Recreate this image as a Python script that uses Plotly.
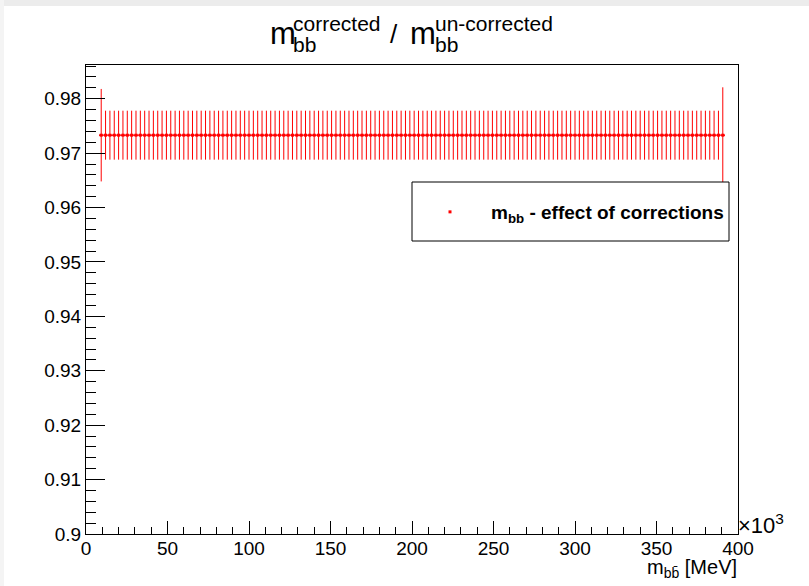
import plotly.graph_objects as go

# ---------------- data (x in units of 10^3 MeV) ----------------
hist_min, hist_max, n_bins = 0.0, 400.0, 150
first_bin, last_bin = 3, 146          # filled bins (0-indexed)

bin_width = (hist_max - hist_min) / n_bins
x_centers = [hist_min + (i + 0.5) * bin_width for i in range(first_bin, last_bin + 1)]
n_pts = len(x_centers)

ratio = [0.9733] * n_pts
ratio_err = [0.0085] + [0.0045] * (n_pts - 2) + [0.0088]
x_err = [bin_width / 2] * n_pts

x_ticks = [0, 50, 100, 150, 200, 250, 300, 350, 400]
y_range = [0.9, 0.9862]

# ---------------- layout helpers ----------------
W, H = 809, 586
L, R, T, B = 86, 71, 65, 52
PW, PH = W - L - R, H - T - B
FONT = "Liberation Sans, Arial, sans-serif"


def px(x):
    return (x - L) / PW


def py(y):
    return 1 - (y - T) / PH


fig = go.Figure()
fig.add_trace(go.Scatter(
    x=x_centers, y=ratio, mode="markers",
    name="<b>m<sub>bb</sub> - effect of corrections</b>",
    marker=dict(color="#ff0000", size=3, symbol="square"),
    error_y=dict(type="data", array=ratio_err, color="#ff0000", thickness=1, width=0),
    error_x=dict(type="data", array=x_err, color="#ff0000", thickness=1.5, width=0),
))

axis_common = dict(showgrid=False, zeroline=False, showline=True, linecolor="black",
                   linewidth=1, mirror=True, ticks="inside", tickcolor="black")

fig.update_xaxes(range=[0, 400], tickmode="array", tickvals=x_ticks,
                 ticktext=[str(v) for v in x_ticks], ticklen=13, ticklabelstandoff=-3,
                 tickfont=dict(family=FONT, size=19, color="black"),
                 minor=dict(dtick=10, ticklen=7, ticks="inside", tickcolor="black"),
                 **axis_common)
fig.update_yaxes(range=y_range, tick0=0.9, dtick=0.01, ticklen=19,
                 tickfont=dict(family=FONT, size=19, color="black"),
                 minor=dict(dtick=0.002, ticklen=10, ticks="inside", tickcolor="black"),
                 **axis_common)

ann = []
# title pieces (stacked sub/superscripts like ROOT TLatex)
ann.append(dict(text="m", x=px(268), y=py(33), xanchor="left", yanchor="middle", font=dict(size=31)))
ann.append(dict(text="corrected", x=px(291), y=py(24), xanchor="left", yanchor="middle", font=dict(size=21)))
ann.append(dict(text="bb", x=px(291), y=py(44), xanchor="left", yanchor="middle", font=dict(size=21)))
ann.append(dict(text="/", x=px(394), y=py(34), xanchor="center", yanchor="middle", font=dict(size=26)))
ann.append(dict(text="m", x=px(408), y=py(33), xanchor="left", yanchor="middle", font=dict(size=31)))
ann.append(dict(text="un-corrected", x=px(433), y=py(24), xanchor="left", yanchor="middle", font=dict(size=21)))
ann.append(dict(text="bb", x=px(433), y=py(44), xanchor="left", yanchor="middle", font=dict(size=21)))
# x axis title
ann.append(dict(text="m<sub>bb\u0304</sub> [MeV]", x=px(739), y=py(568), xanchor="right",
                yanchor="middle", font=dict(size=20)))
# exponent
ann.append(dict(text="\u00d710<sup>3</sup>", x=px(736), y=py(524), xanchor="left",
                yanchor="middle", font=dict(size=22)))
for a in ann:
    a.update(xref="paper", yref="paper", showarrow=False)
    a["font"].update(family=FONT, color="black")

shapes = [
    # outer canvas tint
    dict(type="rect", x0=px(0), x1=px(W), y0=py(0), y1=py(6), fillcolor="#ececec", line_width=0, layer="below"),
    dict(type="rect", x0=px(0), x1=px(4), y0=py(0), y1=py(H), fillcolor="#f4f4f4", line_width=0, layer="below"),
    # legend box
    dict(type="rect", x0=px(412), x1=px(729), y0=py(182), y1=py(241),
         line=dict(color="black", width=1), fillcolor="white", layer="above"),
]
for s in shapes:
    s.update(xref="paper", yref="paper")

fig.update_layout(
    width=W, height=H, margin=dict(l=L, r=R, t=T, b=B),
    paper_bgcolor="white", plot_bgcolor="white",
    font=dict(family=FONT, color="black"),
    annotations=ann, shapes=shapes,
    showlegend=True,
    legend=dict(x=px(409), y=py(212), xanchor="left", yanchor="middle",
                bgcolor="rgba(0,0,0,0)", borderwidth=0, itemwidth=72,
                font=dict(family=FONT, size=19, color="black")),
)

fig.write_html("out.html")
